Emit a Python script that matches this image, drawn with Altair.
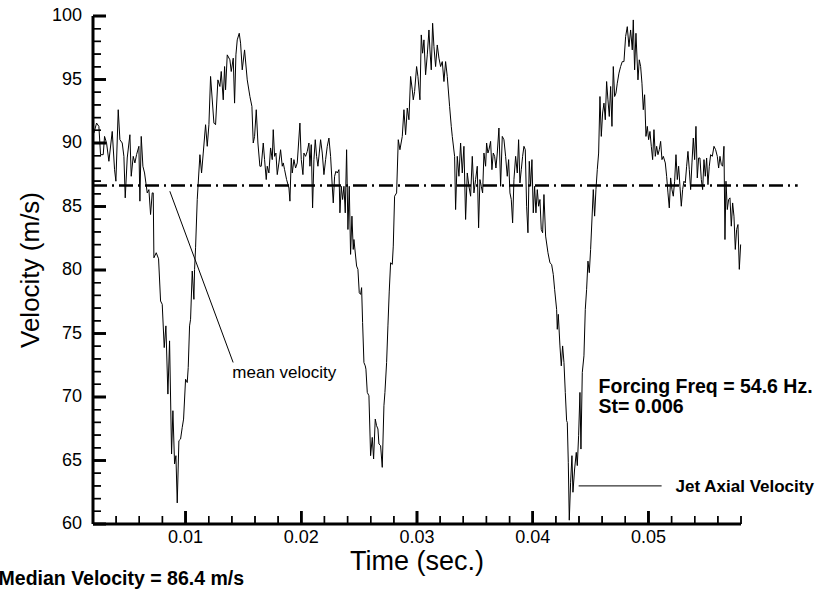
import altair as alt
import pandas as pd

# ---- signal (time in ms, velocity in m/s) ----
time_ms = [
    2.077, 2.308, 2.509, 2.653, 2.884, 2.999, 3.172, 3.374, 3.662, 3.863, 3.979, 4.180, 4.324, 4.526,
    4.670, 4.785, 4.958, 5.189, 5.304, 5.477, 5.621, 5.765, 5.966, 6.053, 6.168, 6.312, 6.456, 6.629,
    6.687, 6.831, 6.975, 7.119, 7.205,
    7.263, 7.465, 7.666, 7.839, 7.983, 8.156, 8.300, 8.473, 8.617, 8.790, 8.905, 9.049, 9.165, 9.280,
    9.424, 9.568, 9.712, 9.827, 10.000, 10.144, 10.230, 10.346, 10.432, 10.576, 10.720, 10.778, 10.864,
    11.008, 11.239, 11.383, 11.527, 11.728, 11.873, 12.017, 12.161, 12.449, 12.593, 12.794, 12.967,
    13.083, 13.256, 13.371, 13.457, 13.601, 13.831, 13.947, 14.120, 14.235, 14.350, 14.465, 14.638,
    14.754, 14.898, 15.099, 15.330, 15.560, 15.733, 15.848, 15.964, 16.108, 16.252, 16.424, 16.540,
    16.713, 16.828, 16.972, 17.058, 17.202, 17.346,
    17.491, 17.577, 17.693, 17.808, 17.923, 18.067, 18.211, 18.355, 18.442, 18.557, 18.730, 18.932,
    19.018, 19.133, 19.220, 19.364, 19.508, 19.652, 19.882, 19.998, 20.142, 20.228, 20.372, 20.516,
    20.660, 20.747, 20.862, 20.977, 21.092, 21.208, 21.323, 21.438, 21.553, 21.669, 21.813, 21.957,
    22.101, 22.245, 22.389, 22.533, 22.677, 22.763, 22.879, 22.994, 23.109, 23.253, 23.340, 23.455,
    23.570, 23.685, 23.800, 23.916, 24.031, 24.146, 24.261, 24.377, 24.492,
    24.550, 24.780, 24.895, 25.010, 25.126, 25.212, 25.299, 25.414, 25.529, 25.587, 25.702, 25.846,
    25.990, 26.134, 26.249, 26.393, 26.508, 26.624, 26.710, 26.854, 26.998, 27.142, 27.229, 27.373,
    27.488, 27.603, 27.718, 27.863, 27.949,
    28.064, 28.237, 28.381, 28.525, 28.727, 28.871, 29.015, 29.159, 29.303, 29.447, 29.591, 29.677,
    29.793, 29.966, 30.081, 30.254, 30.369, 30.484, 30.600, 30.744, 30.888, 31.032, 31.118, 31.234,
    31.349, 31.464, 31.608, 31.752, 31.896, 32.040, 32.184, 32.328, 32.472, 32.616, 32.818, 32.962,
    33.048,
    33.250, 33.336, 33.480, 33.624, 33.768, 33.912, 34.056, 34.200, 34.345, 34.489, 34.633, 34.777,
    34.921, 35.065, 35.209, 35.324, 35.439, 35.555, 35.670, 35.785, 35.929, 36.015, 36.131, 36.217,
    36.361, 36.476, 36.592, 36.707, 36.822, 36.937, 37.081, 37.226, 37.370, 37.514, 37.658, 37.802,
    37.917, 38.032, 38.147, 38.263, 38.378, 38.522, 38.666, 38.781, 38.897, 39.012, 39.127, 39.242,
    39.357, 39.473, 39.588, 39.703, 39.818, 39.934, 40.049, 40.164, 40.279, 40.395, 40.510, 40.625,
    40.740, 40.856, 40.971, 41.115,
    41.317, 41.489, 41.633, 41.777, 41.893, 42.066, 42.124, 42.210, 42.354, 42.469, 42.584, 42.700,
    42.815, 42.930, 42.988, 43.074, 43.160, 43.276, 43.391, 43.477, 43.621, 43.765, 43.852, 43.967,
    44.082, 44.168, 44.284, 44.428, 44.543, 44.658, 44.774, 44.889, 45.004,
    45.235, 45.350, 45.465, 45.580, 45.696, 45.811, 45.926, 46.041, 46.157, 46.272, 46.387, 46.502,
    46.618, 46.733, 46.848, 46.963, 47.079, 47.194, 47.309, 47.453, 47.597,
    47.741, 47.885, 48.029, 48.173, 48.317, 48.461, 48.605, 48.692, 48.807, 48.922, 49.095, 49.210,
    49.326, 49.441, 49.556, 49.671, 49.787, 49.902, 50.017, 50.132, 50.248, 50.363, 50.478, 50.593,
    50.709, 50.824, 50.939, 51.054, 51.169, 51.285, 51.458, 51.573, 51.688, 51.803, 51.919, 52.034,
    52.149, 52.264, 52.380, 52.495, 52.610, 52.725, 52.840, 52.956, 53.071, 53.186, 53.301, 53.417,
    53.532, 53.647, 53.762, 53.878, 53.993, 54.108, 54.223, 54.339, 54.454, 54.569, 54.684, 54.800,
    54.915, 55.030, 55.145, 55.260, 55.376, 55.520, 55.664, 55.808, 55.952, 56.067, 56.182, 56.298,
    56.413, 56.528, 56.614, 56.701, 56.816, 56.931, 57.047, 57.162, 57.277, 57.392, 57.508, 57.623,
    57.738, 57.853, 57.969,
]

velocity = [
    90.78, 91.57, 91.31, 89.08, 89.08, 90.52, 90.00, 88.56, 90.91, 87.90, 86.99, 92.62, 90.26, 90.00,
    88.95, 85.68, 88.82, 90.65, 87.38, 88.95, 88.43, 89.08, 89.74, 85.42, 90.52, 88.17, 87.64, 86.46,
    86.07, 86.33, 84.37, 86.07, 86.07,
    80.96, 81.36, 80.88, 77.56, 77.30, 73.89, 75.60, 70.23, 74.42, 65.51, 68.92, 64.73, 65.38, 61.66,
    66.56, 66.69, 67.61, 68.26, 71.40, 71.14, 72.32, 75.60, 76.12, 79.92, 77.69, 80.05, 81.75,
    85.55, 89.08, 87.64, 89.21, 91.44, 89.74, 91.44, 95.24, 91.57, 91.44, 94.97, 94.45,
    95.63, 93.40, 96.02, 94.19, 96.94, 96.55, 95.63, 96.68, 93.14, 96.94, 98.12, 98.64,
    97.86, 95.76, 97.33, 94.97, 93.66, 92.88, 90.00, 90.52, 92.62, 90.00, 88.17, 88.17,
    90.00, 88.69, 87.12, 88.17, 87.64, 89.61,
    88.69, 91.05, 88.95, 89.21, 87.51, 88.43, 89.47, 88.17, 88.43, 87.90, 87.12, 86.46,
    85.42, 88.82, 87.64, 88.69, 88.03, 88.43, 91.57, 88.69, 87.51, 89.21, 88.95, 89.34,
    90.00, 88.17, 89.87, 84.89, 88.69, 90.26, 88.95, 88.17, 89.21, 90.26, 89.21, 87.51,
    88.69, 89.74, 90.39, 88.95, 86.59, 85.28, 87.38, 87.77, 87.64, 87.90, 84.50, 86.59,
    85.55, 86.59, 84.50, 89.47, 83.19, 86.59, 81.23, 84.24, 81.62,
    82.40, 80.31, 80.05, 78.21, 78.08, 78.61, 75.86, 72.71, 72.45, 72.19, 70.36, 70.10,
    65.38, 66.82, 65.12, 68.26, 67.74, 67.48, 66.30, 66.17, 64.46, 69.31, 70.36, 72.71,
    75.60, 78.34, 80.57, 80.44, 81.88,
    85.81, 86.07, 90.26, 89.47, 90.52, 92.62, 90.65, 92.75, 91.83, 95.24, 94.19, 93.40,
    94.06, 96.02, 95.24, 93.40, 98.51, 97.07, 98.12, 95.37, 96.94, 98.90, 97.33, 95.76,
    99.43, 97.59, 96.02, 97.72, 96.68, 96.02, 96.41, 94.84, 96.41, 95.24, 92.88, 91.31,
    90.52,
    88.95, 84.76, 88.95, 87.38, 90.00, 87.64, 89.74, 83.98, 87.64, 86.59, 85.81, 88.95,
    86.07, 87.12, 88.17, 83.32, 87.12, 86.59, 86.07, 89.21, 88.17, 90.00, 89.21, 89.47,
    90.13, 87.90, 89.21, 88.95, 88.03, 89.21, 91.18, 86.59, 90.52, 90.26, 88.95, 87.38,
    88.69, 86.07, 85.55, 83.71, 87.12, 88.95, 87.64, 90.26, 86.86, 87.90, 88.95, 89.74,
    89.47, 85.02, 82.93, 88.56, 86.59, 88.69, 84.50, 86.59, 84.50, 86.33, 85.02, 85.55,
    83.19, 82.93, 85.94, 82.67,
    81.36, 80.57, 80.44, 79.65, 78.48, 76.90, 75.33, 76.51, 74.02, 72.45, 74.02, 72.71,
    70.36, 68.13, 68.00, 64.86, 60.30, 63.29, 65.38, 62.50, 64.33, 65.64, 64.60, 66.95,
    70.36, 65.90, 71.93, 73.24, 76.90, 78.48, 80.70, 79.79, 81.62,
    86.33, 84.24, 86.33, 87.90, 89.21, 93.66, 90.52, 92.36, 93.14, 91.83, 94.84, 93.40,
    92.09, 94.45, 91.31, 96.02, 93.66, 93.93, 94.71, 95.50, 96.02,
    96.41, 96.41, 98.38, 99.16, 97.59, 98.90, 97.33, 99.69, 95.76, 98.64, 94.97, 96.55,
    96.02, 94.71, 92.62, 93.80, 90.52, 91.31, 90.26, 90.91, 89.74, 88.69, 91.05, 88.95,
    89.74, 89.08, 89.47, 90.13, 88.69, 88.95, 88.43, 87.38, 86.07, 84.89, 87.25, 86.33,
    85.81, 86.99, 89.08, 87.12, 88.17, 86.59, 85.02, 86.33, 86.99, 86.86, 88.17, 89.34,
    87.90, 86.33, 88.43, 90.39, 88.69, 91.31, 87.25, 88.82, 88.82, 87.12, 86.33, 88.69,
    87.38, 88.82, 86.72, 88.17, 89.08, 88.95, 89.74, 89.47, 88.95, 88.03, 88.95, 88.30,
    88.17, 89.74, 82.40, 86.99, 84.76, 85.55, 85.68, 83.45, 85.28, 84.24, 81.62, 83.19,
    83.58, 80.05, 82.01,
]

# ---- axes ----
x_domain = [0.002, 0.058]
y_domain = [60, 100]
x_major = [0.01, 0.02, 0.03, 0.04, 0.05]
x_major_labels = ["0.01", "0.02", "0.03", "0.04", "0.05"]
x_minor = [0.004, 0.006, 0.008, 0.012, 0.014, 0.016, 0.018, 0.022, 0.024, 0.026, 0.028,
           0.032, 0.034, 0.036, 0.038, 0.042, 0.044, 0.046, 0.048, 0.052, 0.054, 0.056, 0.058]
y_major = [60, 65, 70, 75, 80, 85, 90, 95, 100]
y_major_labels = ["60", "65", "70", "75", "80", "85", "90", "95", "100"]
y_minor = [61, 62, 63, 64, 66, 67, 68, 69, 71, 72, 73, 74, 76, 77, 78, 79,
           81, 82, 83, 84, 86, 87, 88, 89, 91, 92, 93, 94, 96, 97, 98, 99]
x_title = "Time (sec.)"
y_title = "Velocity (m/s)"

# ---- annotations ----
mean_velocity = 86.65
mean_line_t = [0.002, 0.0629]
pointer_t = [0.00864, 0.01411]
pointer_v = [86.20, 72.72]
jet_line_t = [0.04397, 0.05114]
jet_line_v = 63.0
labels_regular = ["mean velocity"]
labels_regular_t = [0.01404]
labels_regular_v = [71.48]
labels_bold = ["Forcing Freq = 54.6 Hz.", "St= 0.006", "Median Velocity = 86.4 m/s"]
labels_bold_t = [0.04569, 0.04569, -0.00616]
labels_bold_v = [70.31, 68.74, 55.22]
labels_jet = ["Jet Axial Velocity"]
labels_jet_t = [0.05235]
labels_jet_v = [62.53]

FONT = "Liberation Sans"
W, H = 648, 508
MAJOR_PX, MINOR_PX = 13, 8

df = pd.DataFrame({"t": [v / 1000.0 for v in time_ms], "v": velocity})

xs = alt.Scale(domain=x_domain, nice=False, zero=False)
ys = alt.Scale(domain=y_domain, nice=False, zero=False)

X = alt.X("t:Q", scale=xs, axis=None)
Y = alt.Y("v:Q", scale=ys, axis=None)

line = alt.Chart(df).mark_line(color="black", strokeWidth=1).encode(x=X, y=Y)

mean_df = pd.DataFrame({"t": [mean_line_t[0]], "t2": [mean_line_t[1]], "v": [mean_velocity]})
mean_rule = alt.Chart(mean_df).mark_rule(color="black", strokeWidth=2.6,
                                         strokeDash=[14, 5, 2, 5]).encode(
    x=X, x2="t2:Q", y=Y)

ptr_df = pd.DataFrame({"t": [pointer_t[0]], "t2": [pointer_t[1]],
                       "v": [pointer_v[0]], "v2": [pointer_v[1]]})
pointer = alt.Chart(ptr_df).mark_rule(color="black", strokeWidth=1).encode(
    x=X, x2="t2:Q", y=Y, y2="v2:Q")

jet_df = pd.DataFrame({"t": [jet_line_t[0]], "t2": [jet_line_t[1]], "v": [jet_line_v]})
jet_rule = alt.Chart(jet_df).mark_rule(color="black", strokeWidth=1).encode(
    x=X, x2="t2:Q", y=Y)

# axis lines
ydom = alt.Chart(pd.DataFrame({"t": [x_domain[0]], "t2": [x_domain[0]],
                               "v": [y_domain[0]], "v2": [y_domain[1]]})).mark_rule(
    color="black", strokeWidth=3).encode(x=X, x2="t2:Q", y=Y, y2="v2:Q")
xdom = alt.Chart(pd.DataFrame({"t": [x_domain[0]], "t2": [x_domain[1]],
                               "v": [y_domain[0]], "v2": [y_domain[0]]})).mark_rule(
    color="black", strokeWidth=3).encode(x=X, x2="t2:Q", y=Y, y2="v2:Q")


# inward ticks as short segments through the scales (x, x2, y, y2 all fields)
def tick_segments(yvals, xvals, length_px):
    dx = (x_domain[1] - x_domain[0]) * length_px / W
    dy = (y_domain[1] - y_domain[0]) * length_px / H
    t, t2, v, v2 = [], [], [], []
    for yv in yvals:
        t.append(float(x_domain[0]))
        t2.append(float(x_domain[0] + dx))
        v.append(float(yv))
        v2.append(float(yv))
    for xv in xvals:
        t.append(float(xv))
        t2.append(float(xv))
        v.append(float(y_domain[0]))
        v2.append(float(y_domain[0] + dy))
    return pd.DataFrame({"t": t, "t2": t2, "v": v, "v2": v2})


minor_seg = alt.Chart(tick_segments(y_minor, x_minor, MINOR_PX)).mark_rule(
    color="black", strokeWidth=1.4).encode(x=X, x2="t2:Q", y=Y, y2="v2:Q")
major_seg = alt.Chart(tick_segments(y_major, x_major, MAJOR_PX)).mark_rule(
    color="black", strokeWidth=2.6).encode(x=X, x2="t2:Q", y=Y, y2="v2:Q")

# tick labels
ylab = alt.Chart(pd.DataFrame({"v": [float(v) for v in y_major], "label": y_major_labels})).mark_text(
    align="right", baseline="middle", font=FONT, fontSize=18, color="black").encode(
    y=Y, x=alt.value(-11), text="label:N")
xlab = alt.Chart(pd.DataFrame({"t": x_major, "label": x_major_labels})).mark_text(
    align="center", baseline="top", font=FONT, fontSize=18, color="black").encode(
    x=X, y=alt.value(H + 5), text="label:N")

# axis titles
xtitle = alt.Chart(pd.DataFrame({"label": [x_title]})).mark_text(
    align="center", baseline="alphabetic", font=FONT, fontSize=27, color="black").encode(
    x=alt.value(W / 2), y=alt.value(H + 46), text="label:N")
ytitle = alt.Chart(pd.DataFrame({"label": [y_title]})).mark_text(
    align="center", baseline="alphabetic", font=FONT, fontSize=26, color="black", angle=270).encode(
    x=alt.value(-54), y=alt.value(H / 2), text="label:N")

reg_df = pd.DataFrame({"t": labels_regular_t, "v": labels_regular_v, "label": labels_regular})
reg_text = alt.Chart(reg_df).mark_text(align="left", baseline="alphabetic", font=FONT,
                                       fontSize=17, color="black").encode(
    x=X, y=Y, text="label:N")

bold_df = pd.DataFrame({"t": labels_bold_t, "v": labels_bold_v, "label": labels_bold})
bold_text = alt.Chart(bold_df).mark_text(align="left", baseline="alphabetic", font=FONT,
                                         fontSize=19.5, fontWeight="bold", color="black").encode(
    x=X, y=Y, text="label:N")

jet_df2 = pd.DataFrame({"t": labels_jet_t, "v": labels_jet_v, "label": labels_jet})
jet_text = alt.Chart(jet_df2).mark_text(align="left", baseline="alphabetic", font=FONT,
                                        fontSize=17, fontWeight="bold", color="black").encode(
    x=X, y=Y, text="label:N")

# second drawing of the same ticks with pixel lengths (identical geometry)
ymin = alt.Chart(pd.DataFrame({"v": [float(v) for v in y_minor]})).mark_rule(
    color="#000000", strokeWidth=1.4).encode(y=Y, x=alt.value(0), x2=alt.value(MINOR_PX))
ymaj = alt.Chart(pd.DataFrame({"v": [float(v) for v in y_major]})).mark_rule(
    color="#000000", strokeWidth=2.6).encode(y=Y, x=alt.value(0), x2=alt.value(MAJOR_PX))
xmin = alt.Chart(pd.DataFrame({"t": x_minor})).mark_rule(
    color="#000000", strokeWidth=1.4).encode(x=X, y=alt.value(H), y2=alt.value(H - MINOR_PX))
xmaj = alt.Chart(pd.DataFrame({"t": x_major})).mark_rule(
    color="#000000", strokeWidth=2.6).encode(x=X, y=alt.value(H), y2=alt.value(H - MAJOR_PX))

chart = alt.layer(
    line, minor_seg, major_seg, mean_rule, pointer, jet_rule, xdom, ydom,
    ylab, xlab, xtitle, ytitle, reg_text, bold_text, jet_text,
    ymin, ymaj, xmin, xmaj
).properties(
    width=W, height=H,
    autosize=alt.AutoSizeParams(type="none"),
    padding={"left": 93, "top": 16, "right": 86, "bottom": 68},
    background="white",
).configure_view(stroke=None)

chart.save("out.html", embed_options={"renderer": "svg", "actions": False})
